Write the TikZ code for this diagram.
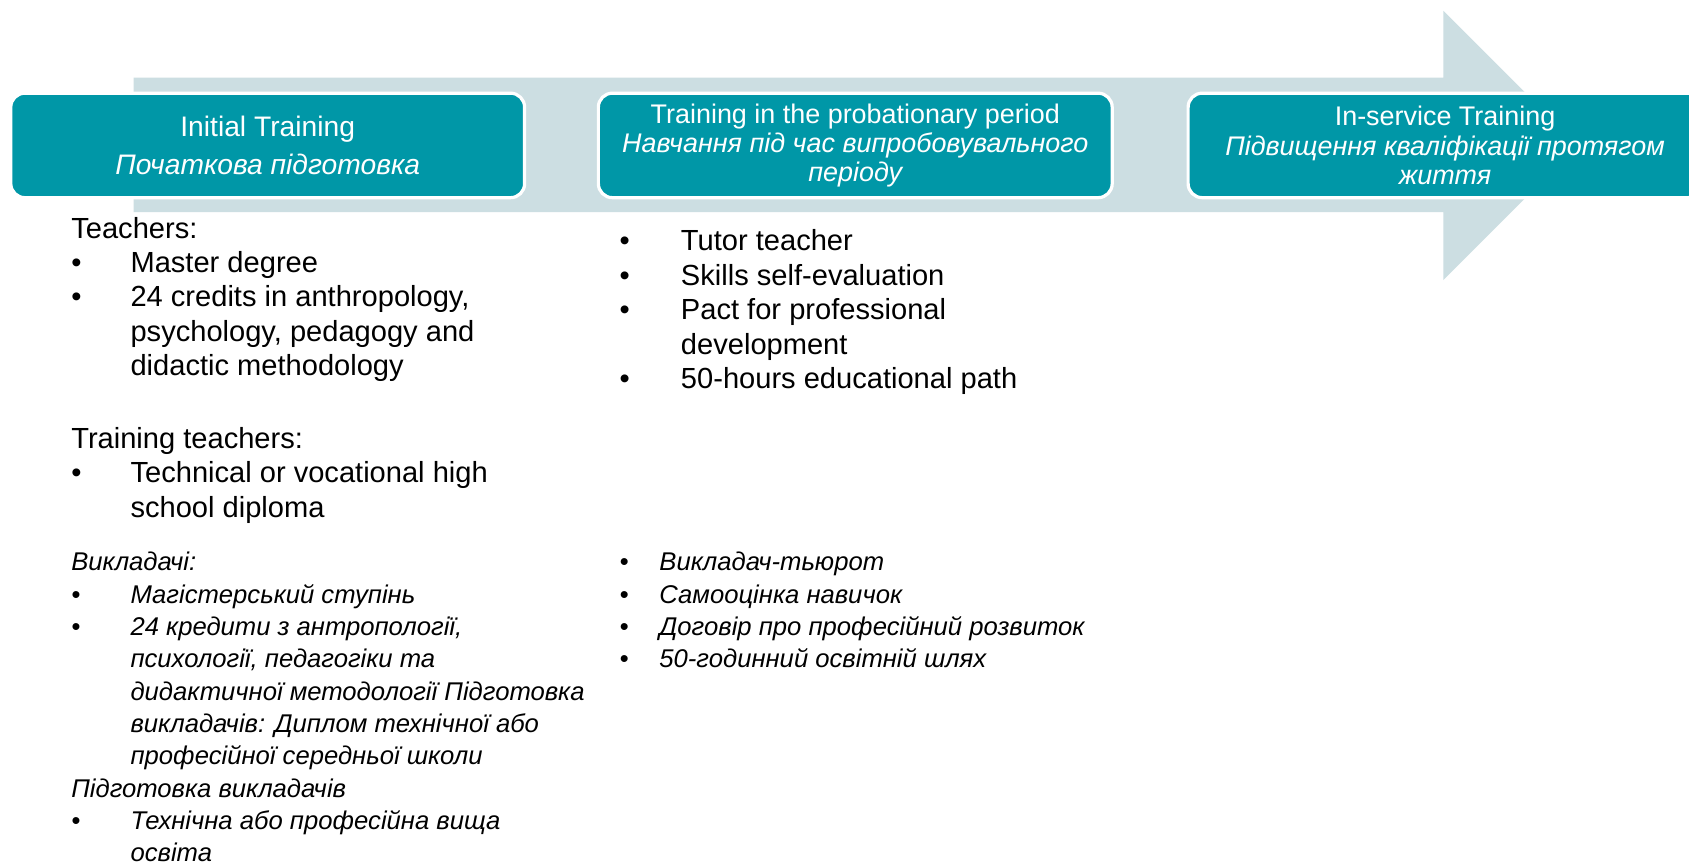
\documentclass[tikz,border=0pt]{standalone}
\usepackage{fontspec}
\setmainfont{Liberation Sans}
\usepackage{array}
\definecolor{tealbox}{RGB}{0,151,167}
\definecolor{arrowc}{RGB}{204,222,226}
\begin{document}
\begin{tikzpicture}[x=1pt,y=-1pt,
  stage/.style={fill=tealbox, draw=white, line width=3pt, rounded corners=13pt,
    minimum width=477pt, minimum height=97pt, inner sep=0pt, text=white,
    align=center, font=\fontsize{25}{27}\selectfont},
  entext/.style={inner sep=0pt, anchor=base west, font=\fontsize{27}{32}\selectfont},
  uatext/.style={inner sep=0pt, anchor=base west, font=\fontsize{23.8}{30}\selectfont\itshape}]
\useasboundingbox (0,0) rectangle (1568,801);
\clip (0,0) rectangle (1568,801);
\fill[white] (0,0) rectangle (1568,801);
% big arrow
\fill[arrowc] (124,72) -- (1340,72) -- (1340,10) -- (1465,135) -- (1340,260)
  -- (1340,197) -- (124,197) -- cycle;
% stages
\node[stage, font=\fontsize{26.2}{27}\selectfont] (s1) at (248.5,135) {Initial Training\\[8pt]\itshape Початкова підготовка};
\node[stage] (s2) at (794,135) {Training in the probationary period\\\itshape Навчання під час випробовувального\\\itshape періоду};
\node[stage] (s3) at (1341.5,135) {In-service Training\\\itshape Підвищення кваліфікації протягом\\\itshape життя};
% left column, English
\node[entext] (enL) at (66,221) {\begin{tabular}[t]{@{}p{55pt}@{}l@{}}
\multicolumn{2}{@{}l@{}}{Teachers:}\\
•&Master degree\\
•&24 credits in anthropology,\\
&psychology, pedagogy and\\
&didactic methodology\\[35pt]
\multicolumn{2}{@{}l@{}}{Training teachers:}\\
•&Technical or vocational high\\
&school diploma
\end{tabular}};
% left column, Ukrainian
\node[uatext] (uaL) at (66,530) {\begin{tabular}[t]{@{}p{55pt}@{}l@{}}
\multicolumn{2}{@{}l@{}}{Викладачі:}\\
•&Магістерський ступінь\\
•&24 кредити з антропології,\\
&психології, педагогіки та\\
&дидактичної методології Підготовка\\
&викладачів: Диплом технічної або\\
&професійної середньої школи\\
\multicolumn{2}{@{}l@{}}{Підготовка викладачів}\\
•&Технічна або професійна вища\\
&освіта
\end{tabular}};
% middle column, English
\node[entext] (enM) at (575,233) {\begin{tabular}[t]{@{}p{57pt}@{}l@{}}
•&Tutor teacher\\
•&Skills self-evaluation\\
•&Pact for professional\\
&development\\
•&50-hours educational path
\end{tabular}};
% middle column, Ukrainian
\node[uatext] (uaM) at (575,530) {\begin{tabular}[t]{@{}p{37pt}@{}l@{}}
•&Викладач-тьюрот\\
•&Самооцінка навичок\\
•&Договір про професійний розвиток\\
•&50-годинний освітній шлях
\end{tabular}};
\end{tikzpicture}
\end{document}
